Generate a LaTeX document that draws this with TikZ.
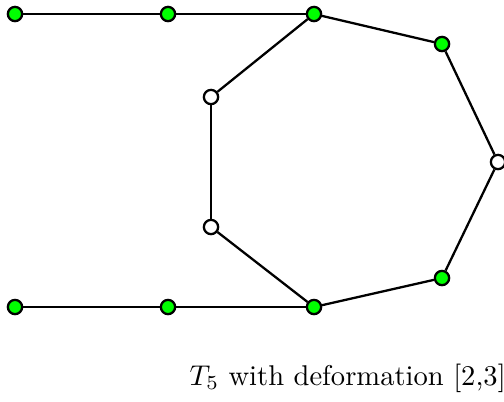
\documentclass[tikz,border=0pt]{standalone}
\usepackage{tikz}
\tikzset{
  vgreen/.style={circle, draw, thick, fill=green, inner sep=0pt, minimum size=5pt},
  vwhite/.style={circle, draw, thick, fill=white, inner sep=0pt, minimum size=5pt},
}
\begin{document}
\begin{tikzpicture}[x=0.35pt, y=-0.35pt]
    \useasboundingbox (0,0) rectangle (504,401);
    % top path
    \node[vgreen] (t1) at (15,14) {};
    \node[vgreen] (t2) at (168,14) {};
    \node[vgreen] (t3) at (314,14) {};
    % cycle
    \node[vgreen] (c1) at (442,44) {};
    \node[vwhite] (c2) at (498,162) {};
    \node[vgreen] (c3) at (442,278) {};
    \node[vgreen] (b3) at (314,307) {};
    \node[vwhite] (w2) at (211,227) {};
    \node[vwhite] (w1) at (211,97) {};
    % bottom path
    \node[vgreen] (b2) at (168,307) {};
    \node[vgreen] (b1) at (15,307) {};
    \foreach \u/\v in {t1/t2, t2/t3, t3/c1, c1/c2, c2/c3, c3/b3, b3/b2, b2/b1, t3/w1, w1/w2, w2/b3}
        \draw[thick] (\u) -- (\v);
    \node[anchor=base west, inner sep=0pt] (cap) at (189,385) {$T_5$ with deformation [2,3]};
\end{tikzpicture}
\end{document}
